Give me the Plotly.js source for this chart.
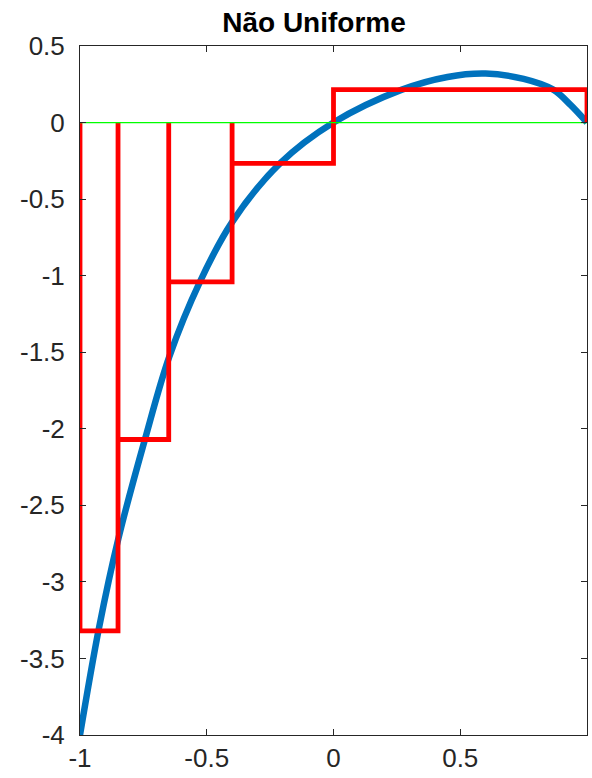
<!DOCTYPE html>
<html>
<head>
<meta charset="utf-8">
<script src="https://cdn.plot.ly/plotly-3.0.1.min.js"></script>
<style>
  html, body { margin: 0; padding: 0; background: #fff; }
  #chart { width: 592px; height: 778px; }
</style>
</head>
<body>
<div id="chart"></div>
<script>
// Function samples (blue curve)
const curveX = [-1, -0.925, -0.849, -0.744, -0.648, -0.527, -0.4, -0.211, 0, 0.27, 0.45, 0.6, 0.75, 0.867, 0.935, 1];
const curveY = [-4.0, -3.30, -2.72, -2.07, -1.53, -1.04, -0.65, -0.267, 0, 0.215, 0.298, 0.32, 0.285, 0.215, 0.115, 0];

// Non-uniform partition and the value on each sub-interval (red steps)
const edges = [-1, -0.85, -0.65, -0.4, 0, 1];
const stepValues = [-3.32, -2.07, -1.04, -0.267, 0.215];

// Axis ticks
const xTickVals = [-1, -0.5, 0, 0.5, 1];
const xTickText = ['-1', '-0.5', '0', '0.5', '1'];
const yTickVals = [-4, -3.5, -3, -2.5, -2, -1.5, -1, -0.5, 0, 0.5];
const yTickText = ['-4', '-3.5', '-3', '-2.5', '-2', '-1.5', '-1', '-0.5', '0', '0.5'];

// Build the outline of each rectangle: (a,0) -> (a,v) -> (b,v) -> (b,0)
const stepX = [], stepY = [];
for (let i = 0; i < stepValues.length; i++) {
  const a = edges[i], b = edges[i + 1], v = stepValues[i];
  stepX.push(a, a, b, b);
  stepY.push(0, v, v, 0);
}

const traces = [
  {
    x: curveX, y: curveY, type: 'scatter', mode: 'lines',
    line: { color: '#0072BD', width: 6.5, shape: 'spline', smoothing: 1 },
    hoverinfo: 'skip'
  },
  {
    x: stepX, y: stepY, type: 'scatter', mode: 'lines',
    line: { color: '#FF0000', width: 4.8 },
    hoverinfo: 'skip'
  },
  {
    x: [edges[0], edges[edges.length - 1]], y: [0, 0], type: 'scatter', mode: 'lines',
    line: { color: '#00FF00', width: 1.2 },
    hoverinfo: 'skip'
  }
];

const axisCommon = {
  showline: true, linecolor: '#262626', linewidth: 1,
  mirror: 'ticks', ticks: 'inside', ticklen: 6, tickwidth: 1, tickcolor: '#262626',
  showgrid: false, zeroline: false,
  tickfont: { family: 'Liberation Sans, Arial, sans-serif', size: 26, color: '#262626' }
};

const layout = {
  width: 592, height: 778,
  margin: { l: 80, r: 5, t: 46, b: 43 },
  paper_bgcolor: '#fff', plot_bgcolor: '#fff',
  showlegend: false,
  title: {
    text: '<b>Não Uniforme</b>',
    font: { family: 'Liberation Sans, Arial, sans-serif', size: 28, color: '#000' },
    x: 314 / 592, xanchor: 'center', xref: 'container',
    y: 1 - 22 / 778, yanchor: 'middle', yref: 'container'
  },
  xaxis: Object.assign({}, axisCommon, {
    range: [-1, 1], tickmode: 'array', tickvals: xTickVals, ticktext: xTickText
  }),
  yaxis: Object.assign({}, axisCommon, {
    range: [-4, 0.5], tickmode: 'array', tickvals: yTickVals, ticktext: yTickText,
    ticklabelstandoff: 9
  })
};

Plotly.newPlot('chart', traces, layout, { staticPlot: true, displayModeBar: false });
</script>
</body>
</html>
